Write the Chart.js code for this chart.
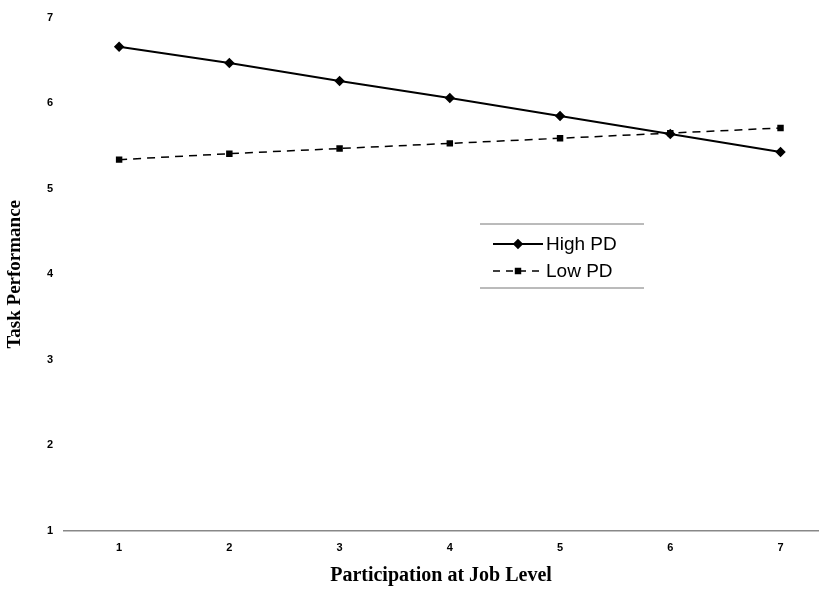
<!DOCTYPE html>
<html lang="en">
<head>
    <meta charset="UTF-8">
    <title>Task Performance</title>
    <script src="https://cdn.jsdelivr.net/npm/chart.js"></script>
    <style>
        body { margin: 0; background: #fff; }
        #wrap { width: 824px; height: 592px; }
    </style>
</head>
<body>
    <div id="wrap"><canvas id="myChart"></canvas></div>

    <script>
        // data
        const xLabels = [1, 2, 3, 4, 5, 6, 7];
        const highPD = [6.66, 6.47, 6.26, 6.06, 5.85, 5.64, 5.43];
        const lowPD = [5.34, 5.41, 5.47, 5.53, 5.59, 5.65, 5.71];
        const yTicks = [1, 2, 3, 4, 5, 6, 7];

        const toPoints = vals => vals.map((v, i) => ({ x: xLabels[i], y: v }));

        // legend drawn inside the plot, like the original
        const boxLegend = {
            id: "boxLegend",
            afterDraw(chart) {
                const ctx = chart.ctx;
                ctx.save();
                ctx.strokeStyle = "#777";
                ctx.lineWidth = 1;
                ctx.beginPath();
                ctx.moveTo(480, 224); ctx.lineTo(644, 224);
                ctx.moveTo(480, 288); ctx.lineTo(644, 288);
                ctx.stroke();

                const rows = [244, 271];
                chart.data.datasets.forEach((ds, i) => {
                    const y = rows[i];
                    ctx.strokeStyle = "#000";
                    ctx.lineWidth = ds.borderWidth;
                    ctx.setLineDash(ds.borderDash ? [7, 6] : []);
                    ctx.beginPath();
                    ctx.moveTo(493, y); ctx.lineTo(543, y);
                    ctx.stroke();
                    ctx.setLineDash([]);
                    Chart.helpers.drawPoint(ctx, {
                        pointStyle: ds.pointStyle, radius: ds.pointRadius, borderWidth: 1
                    }, 518, y);
                    ctx.fillStyle = "#000";
                    ctx.font = "19px 'Liberation Sans', Arial, sans-serif";
                    ctx.textBaseline = "middle";
                    ctx.fillText(ds.label, 546, y + 1);
                });
                ctx.restore();
            }
        };

        new Chart(document.getElementById("myChart"), {
            type: "line",
            data: {
                datasets: [
                    {
                        label: "High PD",
                        data: toPoints(highPD),
                        borderColor: "#000",
                        backgroundColor: "#000",
                        borderWidth: 2,
                        pointStyle: "rectRot",
                        pointRadius: 3.8,
                        tension: 0
                    },
                    {
                        label: "Low PD",
                        data: toPoints(lowPD),
                        borderColor: "#000",
                        backgroundColor: "#000",
                        borderWidth: 1.5,
                        borderDash: [8, 6],
                        pointStyle: "rect",
                        pointRadius: 3.5,
                        tension: 0
                    }
                ]
            },
            options: {
                responsive: true,
                maintainAspectRatio: false,
                animation: false,
                layout: { padding: { top: 15, right: 0 } },
                plugins: {
                    legend: { display: false },
                    tooltip: { enabled: false }
                },
                scales: {
                    x: {
                        type: "linear",
                        min: 0.5,
                        max: 7.34,
                        afterBuildTicks: s => { s.ticks = xLabels.map(v => ({ value: v })); },
                        afterFit: s => { s.height = 61; },
                        grid: { display: false, drawTicks: false },
                        border: { display: true, color: "#888", width: 1.5 },
                        ticks: {
                            color: "#000",
                            padding: 10,
                            font: { family: "'Liberation Sans', Arial", size: 11, weight: "bold" }
                        },
                        title: {
                            display: true,
                            text: "Participation at Job Level",
                            color: "#000",
                            padding: { top: 4 },
                            font: { family: "'Liberation Serif', 'Times New Roman', serif", size: 20, weight: "bold" }
                        }
                    },
                    y: {
                        min: 1,
                        max: 7,
                        afterBuildTicks: s => { s.ticks = yTicks.map(v => ({ value: v })); },
                        afterFit: s => { s.width = 64; },
                        grid: { display: false, drawTicks: false },
                        border: { display: false },
                        ticks: {
                            color: "#000",
                            padding: 11,
                            font: { family: "'Liberation Sans', Arial", size: 11, weight: "bold" }
                        },
                        title: {
                            display: true,
                            text: "Task Performance",
                            color: "#000",
                            padding: { bottom: 0 },
                            font: { family: "'Liberation Serif', 'Times New Roman', serif", size: 19, weight: "bold" }
                        }
                    }
                }
            },
            plugins: [boxLegend]
        });
    </script>
</body>
</html>
